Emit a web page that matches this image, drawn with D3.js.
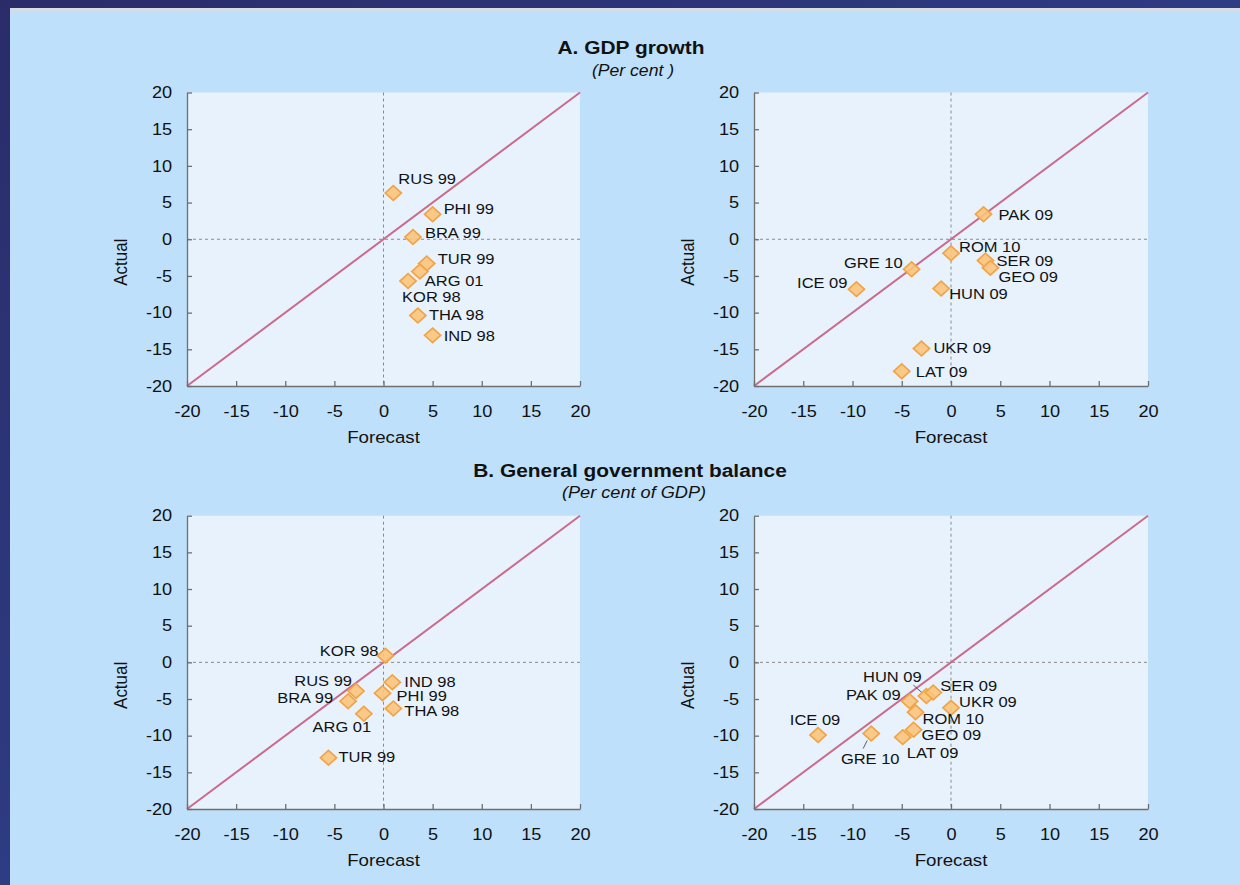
<!DOCTYPE html>
<html>
<head>
<meta charset="utf-8">
<script src="https://cdn.jsdelivr.net/npm/d3@7"></script>
<style>
html, body { margin: 0; padding: 0; background: #2b2f6e; overflow: hidden; }
svg { display: block; font-family: "Liberation Sans", Arial, sans-serif; }
</style>
</head>
<body>
<svg id="chart"></svg>
<script>
const width = 1240;
const height = 885;
const SX = 1.1; // text in the original is a little wider than Arial

// axis ticks
const tickValues = [-20, -15, -10, -5, 0, 5, 10, 15, 20];
const tickLabels = ['-20', '-15', '-10', '-5', '0', '5', '10', '15', '20'];

// A. GDP growth, earlier crises
const gdpEarlyNames    = ['RUS 99', 'PHI 99', 'BRA 99', 'TUR 99', 'ARG 01', 'KOR 98', 'THA 98', 'IND 98'];
const gdpEarlyForecast = [1.0, 5.0, 3.0, 4.4, 3.7, 2.5, 3.5, 5.0];
const gdpEarlyActual   = [6.3, 3.4, 0.3, -3.3, -4.4, -5.7, -10.4, -13.1];

// A. GDP growth, recent crises
const gdpLateNames    = ['PAK 09', 'ROM 10', 'SER 09', 'GEO 09', 'GRE 10', 'ICE 09', 'HUN 09', 'UKR 09', 'LAT 09'];
const gdpLateForecast = [3.3, 0.0, 3.5, 4.0, -4.0, -9.6, -1.0, -3.0, -5.0];
const gdpLateActual   = [3.4, -1.9, -2.9, -3.9, -4.1, -6.8, -6.7, -14.9, -18.0];

// B. General government balance, earlier crises
const balEarlyNames    = ['KOR 98', 'IND 98', 'PHI 99', 'THA 98', 'RUS 99', 'BRA 99', 'ARG 01', 'TUR 99'];
const balEarlyForecast = [0.2, 0.9, -0.1, 1.0, -2.8, -3.6, -2.0, -5.6];
const balEarlyActual   = [0.9, -2.7, -4.2, -6.3, -3.9, -5.3, -7.0, -13.0];

// B. General government balance, recent crises
const balLateNames    = ['HUN 09', 'SER 09', 'PAK 09', 'UKR 09', 'ROM 10', 'ICE 09', 'GRE 10', 'GEO 09', 'LAT 09'];
const balLateForecast = [-2.5, -1.8, -4.2, 0.0, -3.6, -13.5, -8.1, -3.8, -4.9];
const balLateActual   = [-4.6, -4.1, -5.3, -6.2, -6.8, -9.9, -9.7, -9.2, -10.2];

// label placement relative to the marker: [dx, dy, anchor, leader]
const gdpEarlyPlace = {
  'RUS 99': [5, -14, 'start'], 'PHI 99': [11, -6, 'start'], 'BRA 99': [12, -4, 'start'],
  'TUR 99': [11, -5, 'start'], 'ARG 01': [5, 9, 'start'], 'KOR 98': [-6, 16, 'start'],
  'THA 98': [11, -1, 'start'], 'IND 98': [11, 0, 'start']
};
const gdpLatePlace = {
  'PAK 09': [15, 0, 'start'], 'ROM 10': [8, -7, 'start'], 'SER 09': [11, 0, 'start'],
  'GEO 09': [8, 9, 'start'], 'GRE 10': [-9, -7, 'end'], 'ICE 09': [-9, -7, 'end'],
  'HUN 09': [8, 5, 'start'], 'UKR 09': [12, -1, 'start'], 'LAT 09': [14, 0, 'start']
};
const balEarlyPlace = {
  'KOR 98': [-7, -5, 'end'], 'IND 98': [12, -1, 'start'], 'PHI 99': [14, 2, 'start'],
  'THA 98': [11, 2, 'start'], 'RUS 99': [-4, -10, 'end'], 'BRA 99': [-15, -4, 'end'],
  'ARG 01': [-22, 13, 'middle'], 'TUR 99': [10, -1, 'start']
};
const balLatePlace = {
  'HUN 09': [-34, -19, 'middle', [-13, -11, -4, -3]], 'SER 09': [7, -7, 'start'],
  'PAK 09': [-9, -7, 'end'], 'UKR 09': [8, -6, 'start'], 'ROM 10': [7, 6, 'start'],
  'ICE 09': [-3, -15, 'middle'], 'GRE 10': [-1, 25, 'middle', [-4, 7, -8, 15]],
  'GEO 09': [8, 5, 'start'], 'LAT 09': [4, 15, 'start']
};

const svg = d3.select('#chart')
  .attr('width', width)
  .attr('height', height);

// page background
const defs = svg.append('defs');
const bg = defs.append('linearGradient').attr('id', 'bg')
  .attr('x1', 0).attr('y1', 0).attr('x2', 1).attr('y2', 1);
bg.append('stop').attr('offset', '0%').attr('stop-color', '#2a2c6a');
bg.append('stop').attr('offset', '60%').attr('stop-color', '#2e3f88');
bg.append('stop').attr('offset', '100%').attr('stop-color', '#4d4a8a');
svg.append('rect').attr('width', width).attr('height', height).attr('fill', 'url(#bg)');
svg.append('rect').attr('x', 10).attr('y', 8).attr('width', width - 10).attr('height', 3).attr('fill', '#d6dce3');
svg.append('rect').attr('x', 10).attr('y', 11).attr('width', width - 10).attr('height', height - 11).attr('fill', '#bfe0fa');

function stretched(sel, x, y) {
  return sel.attr('transform', `translate(${x},${y}) scale(${SX},1)`);
}

// section titles
stretched(svg.append('text'), 631, 54).attr('text-anchor', 'middle')
  .attr('font-size', 19).attr('font-weight', 'bold').attr('fill', '#111').text('A. GDP growth');
stretched(svg.append('text'), 633, 76).attr('text-anchor', 'middle')
  .attr('font-size', 16).attr('font-style', 'italic').attr('fill', '#111').text('(Per cent )');
stretched(svg.append('text'), 630, 477).attr('text-anchor', 'middle')
  .attr('font-size', 19).attr('font-weight', 'bold').attr('fill', '#111').text('B. General government balance');
stretched(svg.append('text'), 634, 498).attr('text-anchor', 'middle')
  .attr('font-size', 16.5).attr('font-style', 'italic').attr('fill', '#111').text('(Per cent of GDP)');

const panels = [
  {names: gdpEarlyNames, fc: gdpEarlyForecast, ac: gdpEarlyActual, place: gdpEarlyPlace, x0: 187, x1: 580, y0: 92.5, y1: 386},
  {names: gdpLateNames, fc: gdpLateForecast, ac: gdpLateActual, place: gdpLatePlace, x0: 754, x1: 1148, y0: 92.5, y1: 386},
  {names: balEarlyNames, fc: balEarlyForecast, ac: balEarlyActual, place: balEarlyPlace, x0: 187, x1: 580, y0: 515.7, y1: 809},
  {names: balLateNames, fc: balLateForecast, ac: balLateActual, place: balLatePlace, x0: 754, x1: 1148, y0: 515.7, y1: 809}
];

panels.forEach(drawPanel);

function drawPanel(p) {
  const x = d3.scaleLinear().domain([-20, 20]).range([p.x0, p.x1]);
  const y = d3.scaleLinear().domain([-20, 20]).range([p.y1, p.y0]);
  const g = svg.append('g');

  g.append('rect')
    .attr('x', x(-20)).attr('y', y(20))
    .attr('width', x(20) - x(-20)).attr('height', y(-20) - y(20))
    .attr('fill', '#e7f2fd');

  // zero lines
  g.append('line')
    .attr('x1', x(0)).attr('x2', x(0)).attr('y1', y(20)).attr('y2', y(-20))
    .attr('stroke', '#8a8a8a').attr('stroke-width', 1).attr('stroke-dasharray', '3,3');
  g.append('line')
    .attr('x1', x(-20)).attr('x2', x(20)).attr('y1', y(0)).attr('y2', y(0))
    .attr('stroke', '#8a8a8a').attr('stroke-width', 1).attr('stroke-dasharray', '3,3');

  // 45 degree line
  g.append('line')
    .attr('x1', x(-20)).attr('y1', y(-20)).attr('x2', x(20)).attr('y2', y(20))
    .attr('stroke', '#cc6a8c').attr('stroke-width', 2);

  const xAxis = d3.axisBottom(x).tickValues(tickValues)
    .tickFormat((d, i) => tickLabels[i])
    .tickSizeInner(-5).tickSizeOuter(0).tickPadding(19);
  const yAxis = d3.axisLeft(y).tickValues(tickValues)
    .tickFormat((d, i) => tickLabels[i])
    .tickSizeInner(-5).tickSizeOuter(0).tickPadding(13.5);

  const gx = g.append('g').attr('transform', `translate(0,${y(-20)})`).call(xAxis);
  const gy = g.append('g').attr('transform', `translate(${x(-20)},0)`).call(yAxis);
  [gx, gy].forEach(a => {
    a.attr('font-family', null).attr('font-size', 16.5);
    a.select('.domain').attr('stroke', '#6f6f6f').attr('stroke-width', 1.3);
    a.selectAll('.tick line').attr('stroke', '#6f6f6f').attr('stroke-width', 1.3);
    a.selectAll('.tick text').attr('fill', '#111').attr('transform', `scale(${SX},1)`);
  });

  // axis titles
  stretched(g.append('text'), (x(-20) + x(20)) / 2, y(-20) + 57)
    .attr('text-anchor', 'middle').attr('font-size', 17).attr('fill', '#111').text('Forecast');
  g.append('text')
    .attr('transform', `translate(${x(-20) - 60},${(y(-20) + y(20)) / 2 + 23}) scale(${SX},1) rotate(-90)`)
    .attr('text-anchor', 'middle').attr('font-size', 17).attr('fill', '#111').text('Actual');

  const data = p.names.map((n, i) => ({name: n, fc: p.fc[i], ac: p.ac[i]}));

  // leader lines
  data.filter(d => p.place[d.name][3]).forEach(d => {
    const L = p.place[d.name][3];
    g.append('line')
      .attr('x1', x(d.fc) + L[0]).attr('y1', y(d.ac) + L[1])
      .attr('x2', x(d.fc) + L[2]).attr('y2', y(d.ac) + L[3])
      .attr('stroke', '#333').attr('stroke-width', 0.8);
  });

  g.selectAll('path.pt')
    .data(data)
    .enter()
    .append('path')
    .attr('class', 'pt')
    .attr('d', d3.symbol().type(d3.symbolSquare).size(108))
    .attr('transform', d => `translate(${x(d.fc)},${y(d.ac)}) scale(${SX},1) rotate(45)`)
    .attr('fill', '#f9c47c')
    .attr('fill-opacity', 0.9)
    .attr('stroke', '#f2a445')
    .attr('stroke-width', 1.6);

  g.selectAll('text.lbl')
    .data(data)
    .enter()
    .append('text')
    .attr('class', 'lbl')
    .attr('transform', d => `translate(${x(d.fc) + p.place[d.name][0]},${y(d.ac) + p.place[d.name][1]}) scale(${SX},1)`)
    .attr('dy', '0.36em')
    .attr('text-anchor', d => p.place[d.name][2])
    .attr('font-size', 15)
    .attr('fill', '#111')
    .text(d => d.name);
}
</script>
</body>
</html>
